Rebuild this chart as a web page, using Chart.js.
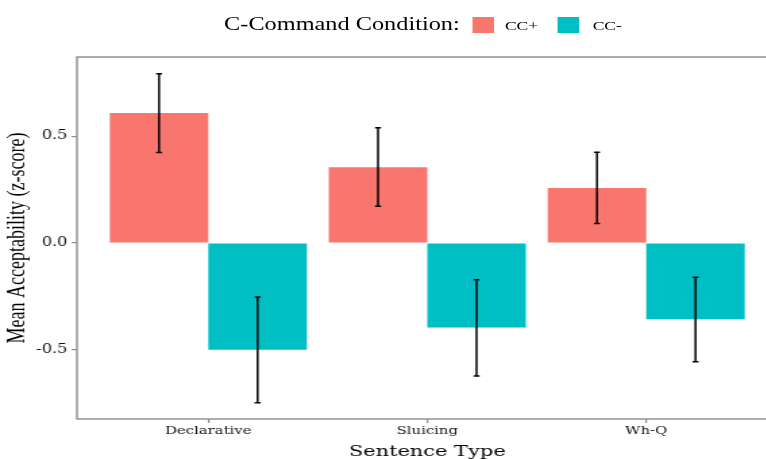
<!DOCTYPE html>
<html>
<head>
<meta charset="utf-8">
<script src="https://cdn.jsdelivr.net/npm/chart.js@4.4.1/dist/chart.umd.min.js"></script>
<style>
  html, body { margin: 0; padding: 0; background: #fff; overflow: hidden; width: 766px; height: 459px; }
  /* the reference picture is stretched sideways, so the whole figure is too */
  #wrap { position: relative; width: 580px; height: 461px; transform: scaleX(1.35); transform-origin: 0 0; }
  #legend { position: absolute; top: 0; left: 0; width: 580px; height: 48px; font-family: "Liberation Serif", serif; color: #000; }
  #legend span { position: absolute; white-space: nowrap; }
  #legend .key { width: 16px; height: 16px; top: 17px; }
  .ttl { font-size: 18px; top: 14px; left: 166px; }
  .lab { font-size: 13px; top: 18px; }
</style>
</head>
<body>
<div id="wrap">
  <canvas id="chart" width="580" height="461"></canvas>
  <div id="legend">
    <span class="ttl">C-Command Condition:</span>
    <span class="key" style="left:350px;background:#F8766D"></span>
    <span class="lab" style="left:374px">CC+</span>
    <span class="key" style="left:413px;background:#00BFC4"></span>
    <span class="lab" style="left:439px">CC-</span>
  </div>
</div>
<script>
const categories = ['Declarative', 'Sluicing', 'Wh-Q'];
const ccPlus = [0.609, 0.355, 0.258];
const ccPlusLow = [0.424, 0.172, 0.092];
const ccPlusHigh = [0.793, 0.540, 0.425];
const ccMinus = [-0.500, -0.396, -0.357];
const ccMinusLow = [-0.749, -0.623, -0.557];
const ccMinusHigh = [-0.253, -0.172, -0.161];
const yTicks = [-0.5, 0, 0.5];

const errors = [
    { low: ccPlusLow, high: ccPlusHigh },
    { low: ccMinusLow, high: ccMinusHigh }
];

// error bars drawn through the y scale
const errorBars = {
    id: 'errorBars',
    afterDatasetsDraw(chart) {
        const ctx = chart.ctx;
        const y = chart.scales.y;
        ctx.save();
        ctx.strokeStyle = '#000';
        ctx.lineWidth = 1.5;
        errors.forEach((err, d) => {
            chart.getDatasetMeta(d).data.forEach((bar, i) => {
                const top = y.getPixelForValue(err.high[i]);
                const bottom = y.getPixelForValue(err.low[i]);
                ctx.beginPath();
                ctx.moveTo(bar.x, top);
                ctx.lineTo(bar.x, bottom);
                ctx.moveTo(bar.x - 2.2, top);
                ctx.lineTo(bar.x + 2.2, top);
                ctx.moveTo(bar.x - 2.2, bottom);
                ctx.lineTo(bar.x + 2.2, bottom);
                ctx.stroke();
            });
        });
        ctx.restore();
    }
};

// panel border
const panelBorder = {
    id: 'panelBorder',
    afterDraw(chart) {
        const a = chart.chartArea;
        const ctx = chart.ctx;
        ctx.save();
        ctx.strokeStyle = '#8c8c8c';
        ctx.lineWidth = 1.4;
        ctx.strokeRect(a.left, a.top, a.right - a.left, a.bottom - a.top);
        ctx.restore();
    }
};

new Chart(document.getElementById('chart').getContext('2d'), {
    type: 'bar',
    data: {
        datasets: [
            {
                label: 'CC+',
                data: categories.map((c, i) => ({ x: i + 1, y: ccPlus[i] })),
                backgroundColor: '#F8766D'
            },
            {
                label: 'CC-',
                data: categories.map((c, i) => ({ x: i + 1, y: ccMinus[i] })),
                backgroundColor: '#00BFC4'
            }
        ]
    },
    options: {
        responsive: false,
        animation: false,
        categoryPercentage: 0.9,
        barPercentage: 1.0,
        layout: { padding: { top: 57, right: 4, left: 0, bottom: 0 } },
        plugins: {
            legend: { display: false },
            tooltip: { enabled: false }
        },
        scales: {
            x: {
                type: 'linear',
                min: 0.4,
                max: 3.6,
                offset: false,
                border: { display: false },
                grid: { offset: false, drawOnChartArea: false, drawTicks: true, tickLength: 4, color: '#8c8c8c', lineWidth: 1.2 },
                afterBuildTicks: scale => { scale.ticks = categories.map((c, i) => ({ value: i + 1 })); },
                afterFit: scale => { scale.height = 42; },
                ticks: {
                    autoSkip: false,
                    maxRotation: 0,
                    padding: 2,
                    color: '#111',
                    font: { family: 'DejaVu Serif', size: 11 },
                    callback: v => categories[v - 1]
                },
                title: {
                    display: true,
                    text: 'Sentence Type',
                    color: '#000',
                    padding: { top: 0, bottom: 0 },
                    font: { family: 'DejaVu Serif', size: 15.5 }
                }
            },
            y: {
                min: -0.825,
                max: 0.872,
                border: { display: false },
                grid: { drawOnChartArea: false, drawTicks: true, tickLength: 4, color: '#8c8c8c', lineWidth: 1.2 },
                afterBuildTicks: scale => { scale.ticks = yTicks.map(v => ({ value: v })); },
                afterFit: scale => { scale.width = 57; },
                ticks: {
                    padding: 3,
                    color: '#111',
                    font: { family: 'DejaVu Serif', size: 12 },
                    callback: v => v.toFixed(1)
                },
                title: {
                    display: true,
                    text: 'Mean Acceptability (z-score)',
                    color: '#000',
                    padding: { top: 2, bottom: 0 },
                    font: { family: 'Liberation Serif', size: 18 }
                }
            }
        }
    },
    plugins: [errorBars, panelBorder]
});
</script>
</body>
</html>
